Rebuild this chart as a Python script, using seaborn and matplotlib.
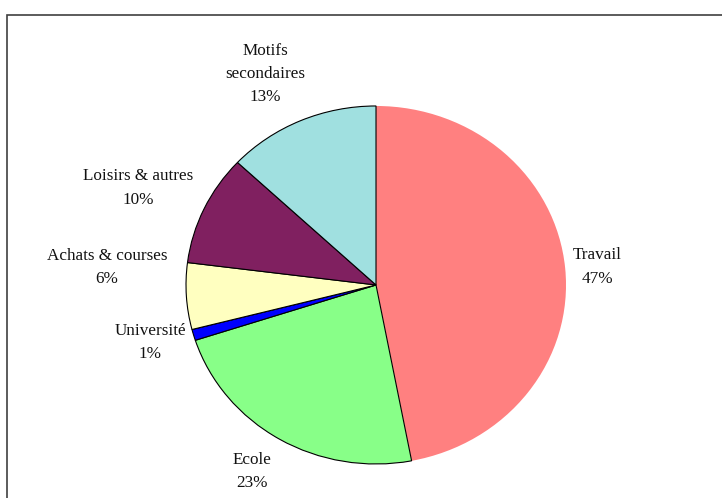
import matplotlib

matplotlib.use("Agg")
import matplotlib.pyplot as plt
import numpy as np
import seaborn as sns
from matplotlib.patches import Rectangle

# motifs de déplacement (parts en %)
categories = ["Travail", "Ecole", "Université", "Achats & courses", "Loisirs & autres", "Motifs\nsecondaires"]
shares = [47, 23, 1, 6, 10, 13]
colors = ["#FF8080", "#88FF88", "#0000FF", "#FFFFC0", "#802060", "#A0E0E0"]

# placement des étiquettes : distance radiale et décalage angulaire (degrés)
label_dist = [1.17, 1.23, 1.23, 1.42, 1.365, 1.315]
label_shift = [-0.5, -1.4, -1.0, -7.6, 1.8, 2.9]

sns.set_theme(style="white")
plt.rcParams["font.family"] = ["Liberation Serif", "DejaVu Serif"]

fig = plt.figure(figsize=(7.22, 4.98), dpi=100)
ax = fig.add_axes([0, 0, 1, 1])

labels = [f"{c}\n{v}%" for c, v in zip(categories, shares)]
wedges, texts = ax.pie(
    shares,
    labels=labels,
    colors=colors,
    startangle=90,
    counterclock=False,
    wedgeprops={"edgecolor": "black", "linewidth": 0.8},
    textprops={"fontsize": 12.3, "color": "#111111", "linespacing": 1.6},
)
wedges[0].set_edgecolor("none")

for w, t, r, s in zip(wedges, texts, label_dist, label_shift):
    mid = np.deg2rad((w.theta1 + w.theta2) / 2 + s)
    t.set_position((r * np.cos(mid), r * np.sin(mid)))
    t.set_ha("center")
    t.set_va("center")
    t.set_multialignment("center")

ax.set_aspect("auto")
ax.set_xlim(-1.979, 1.821)
ax.set_ylim(-1.19, 1.592)
ax.axis("off")

fig.patches.append(
    Rectangle((7 / 722, -0.1), 2, (498 - 15) / 498 + 0.1, transform=fig.transFigure,
              fill=False, edgecolor="#404040", linewidth=1.2)
)

fig.savefig("out.png", dpi=100)
plt.close(fig)
